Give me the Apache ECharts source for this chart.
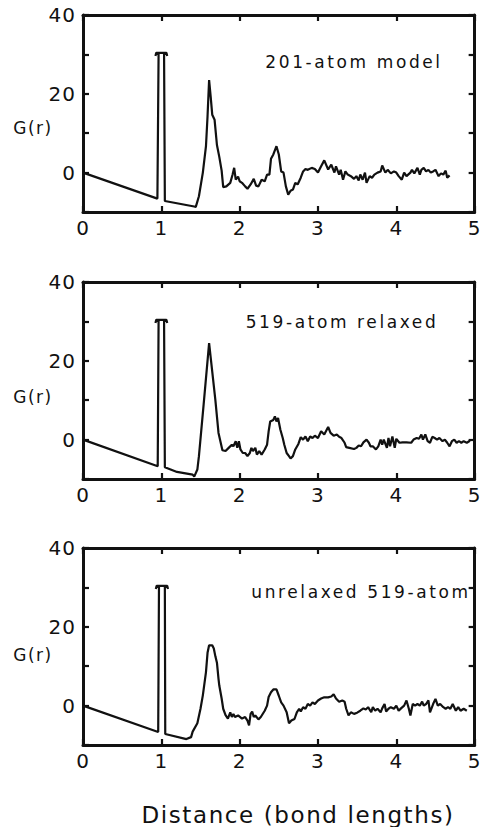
<!DOCTYPE html>
<html>
<head>
<meta charset="utf-8">
<script src="https://cdn.jsdelivr.net/npm/echarts@6/dist/echarts.min.js"></script>
<style>
html,body{margin:0;padding:0;background:#fff;}
#chart{width:484px;height:827px;}
</style>
</head>
<body>
<div id="chart"></div>
<script>
// ---- data (r in bond lengths, G(r)) ----
const panelTitles = ['201-atom model', '519-atom relaxed', 'unrelaxed 519-atom'];
const xTickValues = [0, 1, 2, 3, 4, 5];
const yLabelValues = [0, 20, 40];
const xAxisTitle = 'Distance (bond lengths)';
const yAxisTitle = 'G(r)';

const model201 = [[0,0],[0.95,-6.6],[0.965,30.1],[0.935,30.4],[0.925,29.6],[0.935,30.4],[1.065,30.4],[1.075,29.6],[1.065,30.4],[1.035,30.1],[1.045,-7.2],[1.42,-8.6],[1.44,-8.7],[1.48,-6],[1.53,0],[1.57,6.7],[1.59,14.3],[1.61,23.5],[1.63,19.3],[1.65,14.7],[1.68,13.4],[1.71,7],[1.74,4],[1.77,0.5],[1.79,-3.7],[1.83,-3.5],[1.88,-2.6],[1.91,-0.5],[1.93,1.2],[1.95,-1.8],[1.98,-1],[2.0,-2.2],[2.03,-2.6],[2.07,-3.5],[2.1,-4.1],[2.14,-3],[2.18,-1.6],[2.21,-3.3],[2.24,-3.5],[2.28,-1.8],[2.32,-2.2],[2.35,-0.5],[2.38,-0.5],[2.4,3.5],[2.43,4.6],[2.47,6.7],[2.5,4.6],[2.53,0.3],[2.56,0],[2.59,-3.5],[2.62,-5.6],[2.65,-4.6],[2.68,-4.3],[2.71,-2.6],[2.74,-3],[2.78,-1.3],[2.81,0.3],[2.84,0.9],[2.87,0.7],[2.92,1.2],[2.96,0.9],[3.0,0],[3.04,1.6],[3.08,3.1],[3.13,0.8],[3.17,2.0],[3.21,0],[3.23,1.6],[3.27,-0.5],[3.29,0.7],[3.32,-1.8],[3.35,0.3],[3.38,-0.5],[3.42,-0.9],[3.46,-1.6],[3.49,-0.9],[3.52,-2],[3.54,-0.5],[3.57,-1.8],[3.6,0],[3.62,-2.6],[3.66,-0.9],[3.69,-1.3],[3.72,-0.5],[3.76,0],[3.8,0.3],[3.82,1.8],[3.86,0],[3.89,0.7],[3.93,-0.2],[3.97,0.3],[4.0,0],[4.03,-0.9],[4.07,-1.8],[4.1,0],[4.13,-0.9],[4.18,0],[4.2,0.7],[4.23,-0.2],[4.27,1.2],[4.3,-0.5],[4.32,0.7],[4.35,1.2],[4.38,0.3],[4.41,0.7],[4.44,0],[4.47,0.3],[4.5,0.7],[4.54,-0.9],[4.57,-0.2],[4.6,-0.5],[4.63,0.5],[4.65,-1.3],[4.68,-0.7]];

const relaxed519 = [[0,0],[0.954,-6.75],[0.965,30.1],[0.935,30.4],[0.925,29.6],[0.935,30.4],[1.065,30.4],[1.075,29.6],[1.065,30.4],[1.035,30.1],[1.045,-7],[1.2,-8.2],[1.4,-8.9],[1.42,-9.4],[1.46,-7.6],[1.48,-4.2],[1.54,8.9],[1.61,24.5],[1.69,10],[1.73,1.7],[1.78,-2.7],[1.82,-2.9],[1.86,-2.1],[1.9,-1.3],[1.92,-1.7],[1.95,-0.4],[1.97,-2.1],[1.99,-0.4],[2.01,-2.5],[2.04,-3.4],[2.07,-3.4],[2.1,-4.2],[2.13,-3.4],[2.15,-2.1],[2.17,-2.9],[2.2,-2.1],[2.22,-3.8],[2.25,-2.9],[2.28,-3.8],[2.32,-2.5],[2.35,-1.3],[2.37,2.1],[2.39,4.6],[2.43,5],[2.45,5.9],[2.47,4.6],[2.49,5.5],[2.52,2.5],[2.55,0.4],[2.57,-1.3],[2.6,-3.4],[2.63,-4.2],[2.65,-4.8],[2.68,-4.2],[2.71,-2.5],[2.75,-1.1],[2.78,0.6],[2.81,0],[2.84,0.8],[2.87,-0.4],[2.9,0.8],[2.93,0.4],[2.96,1],[3.0,0.4],[3.04,2.1],[3.08,1.3],[3.13,3.2],[3.16,1.7],[3.2,1.0],[3.24,1.3],[3.27,0.7],[3.3,0.4],[3.34,-0.8],[3.36,-1.9],[3.4,-2.1],[3.46,-2.4],[3.49,-2.1],[3.52,-1.5],[3.55,-1.7],[3.58,-0.7],[3.62,0],[3.65,-0.8],[3.67,-1.7],[3.7,-1.7],[3.74,-2.5],[3.77,-1.7],[3.8,0],[3.82,-1.3],[3.84,0],[3.88,-2.1],[3.9,0.4],[3.92,-1.7],[3.95,0.8],[3.98,-2.1],[4.0,0.2],[4.04,-0.8],[4.08,-0.7],[4.13,-0.7],[4.19,-0.8],[4.22,0],[4.26,0.4],[4.29,0.2],[4.32,1.3],[4.34,0],[4.37,1.3],[4.4,-0.4],[4.43,-0.8],[4.46,0.7],[4.49,0.4],[4.52,0],[4.55,0.4],[4.59,-0.4],[4.62,0],[4.65,-0.8],[4.68,-1.7],[4.71,-0.4],[4.74,0],[4.77,-0.8],[4.8,-0.4],[4.83,-0.8],[4.86,-0.4],[4.9,-0.8],[4.94,-0.3]];

const unrelaxed519 = [[0,0],[0.96,-6.7],[0.97,30.1],[0.94,30.4],[0.93,29.6],[0.94,30.4],[1.075,30.4],[1.085,29.6],[1.075,30.4],[1.045,30.1],[1.05,-7.2],[1.32,-8.5],[1.38,-8],[1.4,-6.6],[1.46,-4.5],[1.5,-0.8],[1.53,2.6],[1.57,8.5],[1.59,13.4],[1.61,15.3],[1.65,15.3],[1.67,14.5],[1.69,12.5],[1.71,10.9],[1.73,6.8],[1.74,5.1],[1.77,1.8],[1.79,-0.8],[1.82,-2.4],[1.85,-3.3],[1.88,-1.7],[1.9,-2.9],[1.92,-2.1],[1.94,-2.9],[1.98,-2.5],[2.03,-3.3],[2.07,-2.9],[2.1,-3.8],[2.12,-5],[2.14,-2.1],[2.16,-1.5],[2.18,-2.9],[2.2,-2.5],[2.24,-3.5],[2.27,-2.9],[2.32,-1.3],[2.35,0],[2.37,2.2],[2.4,3.4],[2.43,4.1],[2.47,4.1],[2.5,2.5],[2.53,0.8],[2.56,0],[2.6,-1.7],[2.63,-4.5],[2.66,-3.8],[2.7,-3.4],[2.73,-1.7],[2.76,-0.8],[2.78,-1.5],[2.81,-0.4],[2.84,-0.8],[2.87,0.4],[2.9,0],[2.93,0.8],[2.96,0.4],[3.0,1.3],[3.04,1.8],[3.08,2.1],[3.13,2.1],[3.17,2.3],[3.2,2.9],[3.23,1.8],[3.27,1.0],[3.31,1.3],[3.34,1.0],[3.36,-0.8],[3.39,-2.5],[3.42,-1.7],[3.46,-2.1],[3.5,-1.8],[3.54,-1.3],[3.58,-0.7],[3.61,-1.0],[3.64,-0.4],[3.68,-1.7],[3.7,-0.4],[3.73,-1.3],[3.76,-0.8],[3.8,-1.7],[3.82,-0.7],[3.85,0.4],[3.87,-1.5],[3.9,-0.8],[3.93,-0.4],[3.97,-0.8],[4.0,0],[4.03,-1.3],[4.06,-0.7],[4.1,0],[4.13,1.3],[4.16,-0.8],[4.18,-2.5],[4.21,0.4],[4.24,0],[4.27,0.4],[4.3,0],[4.33,1.0],[4.35,0],[4.38,0.4],[4.41,1.3],[4.43,-1.7],[4.47,0.4],[4.5,1.7],[4.53,0],[4.56,0.4],[4.6,-0.4],[4.63,-0.8],[4.66,-0.4],[4.69,-0.8],[4.72,0.4],[4.76,-1.3],[4.79,-0.4],[4.82,-1.3],[4.86,-0.8],[4.9,-1.3]];

const panelData = [model201, relaxed519, unrelaxed519];

// ---- layout ----
const FONT = '"DejaVu Sans", sans-serif';
const INK = '#111';
const grids = [
  {left: 83, top: 15, width: 394, height: 197},
  {left: 83, top: 282, width: 393, height: 197},
  {left: 83, top: 548, width: 397, height: 197}
];

const xAxes = [], yAxes = [], series = [];
grids.forEach((g, i) => {
  const axisLine = {show: true, onZero: false, lineStyle: {color: INK, width: 3}};
  const axisTick = {show: true, inside: true, length: 6, lineStyle: {color: INK, width: 2.2}};
  const baseX = {
    type: 'value', gridIndex: i, min: 0, max: 5, interval: 1,
    axisLine, axisTick, splitLine: {show: false}
  };
  xAxes.push(Object.assign({}, baseX, {
    position: 'bottom',
    axisLabel: {show: true, color: INK, fontFamily: FONT, fontSize: 20, margin: 6,
      formatter: v => xTickValues.includes(v) ? String(v) : ''}
  }));
  xAxes.push(Object.assign({}, baseX, {position: 'top', axisLabel: {show: false}}));
  const baseY = {
    type: 'value', gridIndex: i, min: -10, max: 40, interval: 10,
    axisLine, axisTick, splitLine: {show: false}
  };
  yAxes.push(Object.assign({}, baseY, {
    position: 'left',
    axisLabel: {show: true, color: INK, fontFamily: FONT, fontSize: 20, margin: 7,
      formatter: v => yLabelValues.includes(v) ? String(v) : ''}
  }));
  yAxes.push(Object.assign({}, baseY, {position: 'right', axisLabel: {show: false}}));
  series.push({
    type: 'line', xAxisIndex: 2 * i, yAxisIndex: 2 * i,
    data: panelData[i], symbol: 'none', smooth: false, clip: true,
    lineStyle: {color: INK, width: 2.2}
  });
});

const labelPos = [
  {title: [354, 62], g: [33, 128]},
  {title: [342, 322], g: [33, 397]},
  {title: [361, 592], g: [33, 655]}
];
const graphic = [];
labelPos.forEach((p, i) => {
  graphic.push({type: 'text', x: p.title[0], y: p.title[1],
    style: {text: panelTitles[i], fill: INK, font: '17px ' + FONT, textAlign: 'center', textVerticalAlign: 'middle'}});
  graphic.push({type: 'text', x: p.g[0], y: p.g[1],
    style: {text: yAxisTitle, fill: INK, font: '17px ' + FONT, textAlign: 'center', textVerticalAlign: 'middle'}});
});
graphic.push({type: 'text', x: 298, y: 815,
  style: {text: xAxisTitle, fill: INK, font: '23px ' + FONT, textAlign: 'center', textVerticalAlign: 'middle'}});

const chart = echarts.init(document.getElementById('chart'), null, {renderer: 'svg'});
chart.setOption({
  backgroundColor: '#fff',
  animation: false,
  grid: grids,
  xAxis: xAxes,
  yAxis: yAxes,
  series: series,
  graphic: graphic
});

function spaceText() {
  document.querySelectorAll('#chart svg text').forEach(t => {
    const s = t.textContent || '';
    let ls = '1px';
    if (s === xAxisTitle) ls = '1.6px';
    else if (panelTitles.includes(s)) ls = '2.6px';
    else if (s === yAxisTitle) ls = '1.5px';
    t.style.letterSpacing = ls;
  });
}
spaceText();
chart.on('finished', spaceText);
setTimeout(spaceText, 50);
</script>
</body>
</html>
